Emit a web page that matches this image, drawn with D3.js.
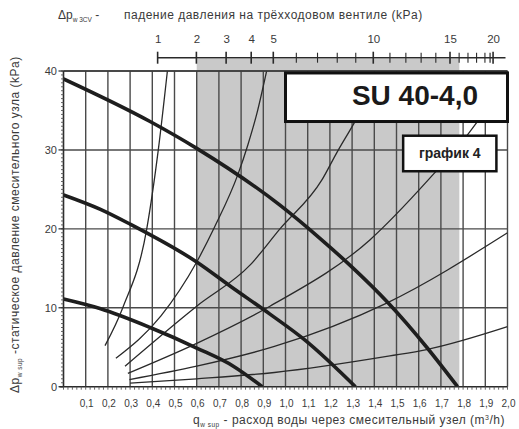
<!DOCTYPE html>
<html>
<head>
<meta charset="utf-8">
<script src="https://cdn.jsdelivr.net/npm/d3@7"></script>
<style>
body { margin: 0; background: #fff; }
svg { display: block; font-family: "Liberation Sans", Arial, sans-serif; }
</style>
</head>
<body>
<div id="chart"></div>
<script>
// bottom axis: flow through the mixing unit (m3/h)
const flowTicks = d3.range(1, 21).map(i => i / 10);
const flowLabels = flowTicks.map(d => d.toFixed(1).replace(".", ","));
// left axis: static pressure (kPa)
const pressureTicks = [0, 10, 20, 30, 40];
// top axis: pressure drop on the 3-way valve (kPa) and the flow it sits at
const valveTicks = d3.range(1, 21);
const valveLabels = [1, 2, 3, 4, 5, 10, 15, 20];
const valveDp = [1, 5, 15, 20];
const valveQ = [0.424, 0.945, 1.741, 1.935];
// shaded flow range
const bandQ = [0.6, 1.783];

// pump curves (thick), [flow, kPa]
const pumpHigh = [[0, 39], [0.39, 33.6], [0.6, 30.2], [0.975, 23], [1.155, 18.8], [1.29, 15.4], [1.463, 10.6], [1.636, 5.0], [1.775, 0]];
const pumpMid = [[0, 24.3], [0.164, 22.5], [0.3, 20.6], [0.6, 15.8], [0.758, 12.6], [0.93, 9.2], [1.088, 5.9], [1.315, 0]];
const pumpLow = [[0, 11.1], [0.164, 9.9], [0.39, 7.5], [0.6, 4.9], [0.765, 2.6], [0.895, 0]];

// system curves (thin), [flow, kPa]
const sysA = [[0.187, 5.2], [0.267, 10], [0.375, 20], [0.427, 30], [0.468, 40]];
const sysB = [[0.236, 3.6], [0.44, 9], [0.6, 15.8], [0.68, 20.2], [0.787, 27], [0.83, 30.6], [0.87, 34.5], [0.915, 40]];
const sysC = [[0.277, 2.6], [0.6, 10.2], [0.84, 15.4], [0.975, 20], [1.164, 26.2], [1.23, 29.6], [1.309, 33.4], [1.36, 36]];
const sysD = [[0.29, 1.7], [0.6, 5.5], [0.93, 10.2], [1.38, 18.6], [1.643, 26.2], [1.83, 32.3], [1.9, 35]];
const sysE = [[0.297, 0.9], [0.6, 2.6], [0.95, 5.1], [1.456, 10.6], [2.0, 19.5]];
const sysF = [[0.3, 0.45], [0.6, 1.0], [0.95, 1.8], [1.47, 3.9], [1.636, 4.7], [2.0, 7.6]];

const W = 519, H = 429;
const svg = d3.select("#chart").append("svg").attr("width", W).attr("height", H);

const x = d3.scaleLinear().domain([0, 2]).range([63.5, 507.5]);
const y = d3.scaleLinear().domain([0, 40]).range([386.7, 71]);
const topQ = d3.scalePow().exponent(0.5).domain(valveDp).range(valveQ);

const ink = "#2a2a2a";
const textCol = "#3a3a3a";

// shaded band (runs up to the top scale)
svg.append("rect")
    .attr("x", x(bandQ[0])).attr("y", 59)
    .attr("width", x(bandQ[1]) - x(bandQ[0]))
    .attr("height", y(0) - 59)
    .attr("fill", "#c9c9c9");

// grid
svg.append("g").selectAll("line")
    .data(flowTicks)
    .enter().append("line")
    .attr("x1", d => x(d)).attr("x2", d => x(d))
    .attr("y1", y(40)).attr("y2", y(0))
    .attr("stroke", "#4a4a4a").attr("stroke-width", 1.4);

svg.append("g").selectAll("line")
    .data(pressureTicks.slice(1))
    .enter().append("line")
    .attr("x1", x(0)).attr("x2", x(2))
    .attr("y1", d => y(d)).attr("y2", d => y(d))
    .attr("stroke", "#4a4a4a").attr("stroke-width", 1.4);

// curves
svg.append("clipPath").attr("id", "plot")
    .append("rect").attr("x", x(0)).attr("y", y(40))
    .attr("width", x(2) - x(0)).attr("height", y(0) - y(40));

const line = d3.line()
    .x(d => x(d[0])).y(d => y(d[1]))
    .curve(d3.curveMonotoneX);

const curves = svg.append("g").attr("clip-path", "url(#plot)");

curves.selectAll(".sys")
    .data([sysA, sysB, sysC, sysD, sysE, sysF])
    .enter().append("path")
    .attr("class", "sys")
    .attr("d", line)
    .attr("fill", "none")
    .attr("stroke", ink).attr("stroke-width", 1.3);

curves.selectAll(".pump")
    .data([pumpHigh, pumpMid, pumpLow])
    .enter().append("path")
    .attr("class", "pump")
    .attr("d", line)
    .attr("fill", "none")
    .attr("stroke", "#1e1e1e").attr("stroke-width", 3.6);

// frame
svg.append("line")
    .attr("x1", x(0)).attr("x2", x(2)).attr("y1", y(40)).attr("y2", y(40))
    .attr("stroke", "#3a3a3a").attr("stroke-width", 1.6);
svg.append("line")
    .attr("x1", x(0)).attr("x2", x(0)).attr("y1", y(40)).attr("y2", y(0))
    .attr("stroke", ink).attr("stroke-width", 1.6);
svg.append("line")
    .attr("x1", x(0) - 4).attr("x2", x(2)).attr("y1", y(0)).attr("y2", y(0))
    .attr("stroke", ink).attr("stroke-width", 1.6);

// minor ticks on left and bottom axes
svg.append("g").selectAll("line")
    .data(d3.range(0, 81).map(i => i / 2))
    .enter().append("line")
    .attr("x1", x(0)).attr("x2", x(0) - 2.5)
    .attr("y1", d => y(d)).attr("y2", d => y(d))
    .attr("stroke", "#555").attr("stroke-width", 0.9);

svg.append("g").selectAll("line")
    .data(d3.range(0, 101).map(i => i / 50))
    .enter().append("line")
    .attr("x1", d => x(d)).attr("x2", d => x(d))
    .attr("y1", y(0)).attr("y2", y(0) + 3)
    .attr("stroke", "#555").attr("stroke-width", 0.9);

// major ticks on left axis
svg.append("g").selectAll("line")
    .data(pressureTicks)
    .enter().append("line")
    .attr("x1", x(0) - 5).attr("x2", x(0))
    .attr("y1", d => y(d)).attr("y2", d => y(d))
    .attr("stroke", ink).attr("stroke-width", 1.2);

// tick labels
svg.append("g").selectAll("text")
    .data(pressureTicks)
    .enter().append("text")
    .attr("x", 57).attr("y", d => y(d) + 4)
    .attr("text-anchor", "end")
    .attr("font-size", 11).attr("fill", textCol)
    .text(d => d);

svg.append("g").selectAll("text")
    .data(flowTicks)
    .enter().append("text")
    .attr("x", d => x(d) + 1).attr("y", 407)
    .attr("text-anchor", "middle")
    .attr("font-size", 10).attr("fill", textCol)
    .text((d, i) => flowLabels[i]);

// top scale
const topY = 57.7;
svg.append("line")
    .attr("x1", x(topQ(1))).attr("x2", x(2) - 2)
    .attr("y1", topY).attr("y2", topY)
    .attr("stroke", ink).attr("stroke-width", 1.5);

svg.append("g").selectAll("line")
    .data(valveTicks)
    .enter().append("line")
    .attr("x1", d => x(topQ(d))).attr("x2", d => x(topQ(d)))
    .attr("y1", d => valveLabels.includes(d) ? topY - 6 : topY - 5)
    .attr("y2", d => valveLabels.includes(d) ? topY + 6 : topY + 5)
    .attr("stroke", ink)
    .attr("stroke-width", d => valveLabels.includes(d) ? 1.6 : 1.1);

svg.append("line")
    .attr("x1", x(topQ(20)) - 3).attr("x2", x(topQ(20)) - 3)
    .attr("y1", topY - 5).attr("y2", topY + 5)
    .attr("stroke", ink).attr("stroke-width", 1.2);

svg.append("g").selectAll("text")
    .data(valveLabels)
    .enter().append("text")
    .attr("x", d => x(topQ(d)) + 0.5).attr("y", 42.5)
    .attr("text-anchor", "middle")
    .attr("font-size", 11.5).attr("fill", textCol)
    .text(d => d);

// axis titles
const titleSize = 12, titleSpacing = 0.5;

const topTitle = svg.append("text")
    .attr("x", 58).attr("y", 19)
    .attr("font-size", titleSize).attr("fill", textCol);
topTitle.append("tspan").text("Δp");
topTitle.append("tspan").attr("font-size", 6.5).attr("dy", 3).text("w 3CV");
topTitle.append("tspan").attr("dy", -3).text(" -");
svg.append("text")
    .attr("x", 124).attr("y", 19)
    .attr("font-size", titleSize).attr("letter-spacing", titleSpacing).attr("fill", textCol)
    .text("падение давления на трёхходовом вентиле (kPa)");

const bottomTitle = svg.append("text")
    .attr("x", 505).attr("y", 424)
    .attr("text-anchor", "end")
    .attr("font-size", titleSize).attr("letter-spacing", titleSpacing).attr("fill", textCol);
bottomTitle.append("tspan").text("q");
bottomTitle.append("tspan").attr("font-size", 6.5).attr("dy", 3).text("w sup");
bottomTitle.append("tspan").attr("dy", -3).text(" - расход воды через смесительный узел (m");
bottomTitle.append("tspan").attr("font-size", 7).attr("dy", -4).text("3");
bottomTitle.append("tspan").attr("dy", 4).text("/h)");

const leftTitle = svg.append("text")
    .attr("transform", "translate(19,393) rotate(-90)")
    .attr("font-size", titleSize).attr("letter-spacing", titleSpacing).attr("fill", textCol);
leftTitle.append("tspan").text("Δp");
leftTitle.append("tspan").attr("font-size", 6.5).attr("dy", 3).text("w sup");
leftTitle.append("tspan").attr("dy", -3).text("  -статическое давление смесительного узла (kPa)");

// label boxes
svg.append("rect")
    .attr("x", x(1.0)).attr("y", y(39.75))
    .attr("width", x(2.0) - x(1.0)).attr("height", y(33.6) - y(39.75))
    .attr("fill", "#fff").attr("stroke", "#111").attr("stroke-width", 3);
svg.append("text")
    .attr("x", 478).attr("y", 105)
    .attr("text-anchor", "end")
    .attr("font-size", 28).attr("font-weight", "bold").attr("fill", "#1a1a1a")
    .text("SU 40-4,0");

svg.append("rect")
    .attr("x", x(1.53)).attr("y", y(31.8))
    .attr("width", x(1.95) - x(1.53)).attr("height", y(27.3) - y(31.8))
    .attr("fill", "#fff").attr("stroke", "#111").attr("stroke-width", 2.5);
svg.append("text")
    .attr("x", (x(1.53) + x(1.95)) / 2).attr("y", 158)
    .attr("text-anchor", "middle")
    .attr("font-size", 14).attr("font-weight", "bold").attr("fill", "#222")
    .text("график 4");
</script>
</body>
</html>
